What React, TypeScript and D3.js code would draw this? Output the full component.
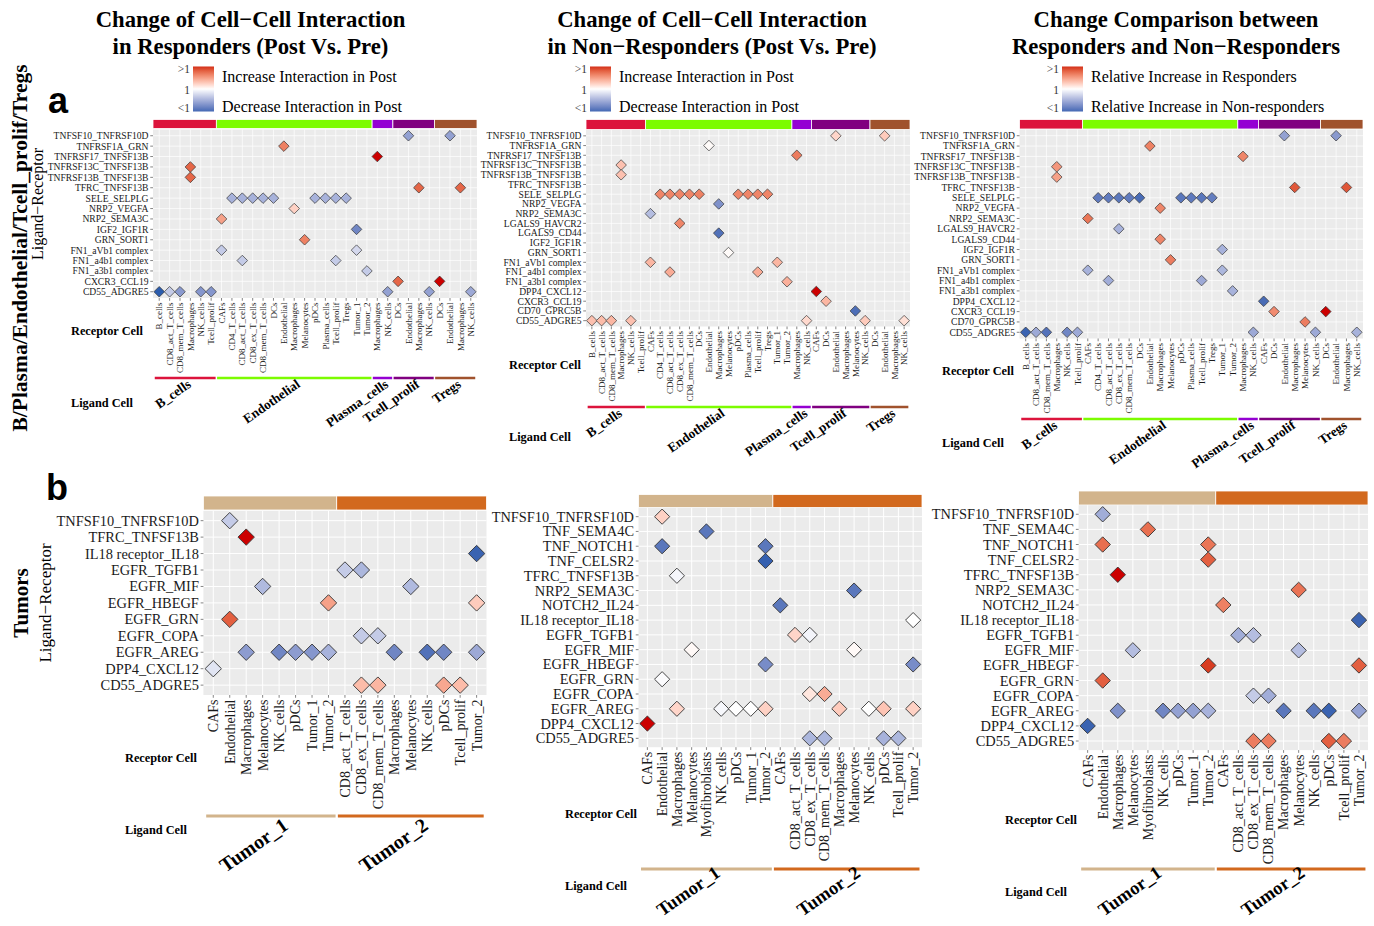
import React from "react";
import * as d3 from "d3";

// ---------------- DATA ----------------
const TOP_GROUPS = ["B_cells", "Endothelial", "Plasma_cells", "Tcell_prolif", "Tregs"];
const TOP_GROUP_COLORS = ["#DC143C", "#7CFC00", "#9400D3", "#800080", "#A0522D"];
const TOP_B_RECEPTORS = ["B_cells", "CD8_act_T_cells", "CD8_mem_T_cells", "Macrophages", "NK_cells", "Tcell_prolif"];
const TOP_ENDO_RECEPTORS = ["CAFs", "CD4_T_cells", "CD8_act_T_cells", "CD8_ex_T_cells", "CD8_mem_T_cells", "DCs", "Endothelial", "Macrophages", "Melanocytes", "pDCs", "Plasma_cells", "Tcell_prolif", "Tregs", "Tumor_1", "Tumor_2"];
const TOP_PLASMA_RECEPTORS = ["Macrophages", "NK_cells"];
const A1_TCELL_RECEPTORS = ["DCs", "Endothelial", "Macrophages", "NK_cells"];
const A23_TCELL_RECEPTORS = ["CAFs", "DCs", "Endothelial", "Macrophages", "Melanocytes", "NK_cells"];
const TOP_TREGS_RECEPTORS = ["DCs", "Endothelial", "Macrophages", "NK_cells"];

const A1_ROWS = ["TNFSF10_TNFRSF10D", "TNFRSF1A_GRN", "TNFRSF17_TNFSF13B", "TNFRSF13C_TNFSF13B", "TNFRSF13B_TNFSF13B", "TFRC_TNFSF13B", "SELE_SELPLG", "NRP2_VEGFA", "NRP2_SEMA3C", "IGF2_IGF1R", "GRN_SORT1", "FN1_aVb1 complex", "FN1_a4b1 complex", "FN1_a3b1 complex", "CXCR3_CCL19", "CD55_ADGRE5"];
const A23_ROWS = ["TNFSF10_TNFRSF10D", "TNFRSF1A_GRN", "TNFRSF17_TNFSF13B", "TNFRSF13C_TNFSF13B", "TNFRSF13B_TNFSF13B", "TFRC_TNFSF13B", "SELE_SELPLG", "NRP2_VEGFA", "NRP2_SEMA3C", "LGALS9_HAVCR2", "LGALS9_CD44", "IGF2_IGF1R", "GRN_SORT1", "FN1_aVb1 complex", "FN1_a4b1 complex", "FN1_a3b1 complex", "DPP4_CXCL12", "CXCR3_CCL19", "CD70_GPRC5B", "CD55_ADGRE5"];

type Pt = [string, string, string, number];

// [ligand_receptor, ligand cell, receptor cell, scaled change (-1 .. 1)]
const A1_POINTS: Pt[] = [
  ["TNFSF10_TNFRSF10D", "Tcell_prolif", "Endothelial", -0.55],
  ["TNFSF10_TNFRSF10D", "Tregs", "Endothelial", -0.55],
  ["TNFRSF1A_GRN", "Endothelial", "Endothelial", 0.6],
  ["TNFRSF17_TNFSF13B", "Plasma_cells", "Macrophages", 1.0],
  ["TNFRSF13C_TNFSF13B", "B_cells", "Macrophages", 0.72],
  ["TNFRSF13B_TNFSF13B", "B_cells", "Macrophages", 0.72],
  ["TFRC_TNFSF13B", "Tcell_prolif", "Macrophages", 0.72],
  ["TFRC_TNFSF13B", "Tregs", "Macrophages", 0.72],
  ["SELE_SELPLG", "Endothelial", "CD4_T_cells", -0.45],
  ["SELE_SELPLG", "Endothelial", "CD8_act_T_cells", -0.45],
  ["SELE_SELPLG", "Endothelial", "CD8_ex_T_cells", -0.45],
  ["SELE_SELPLG", "Endothelial", "CD8_mem_T_cells", -0.45],
  ["SELE_SELPLG", "Endothelial", "DCs", -0.45],
  ["SELE_SELPLG", "Endothelial", "pDCs", -0.45],
  ["SELE_SELPLG", "Endothelial", "Plasma_cells", -0.45],
  ["SELE_SELPLG", "Endothelial", "Tcell_prolif", -0.45],
  ["SELE_SELPLG", "Endothelial", "Tregs", -0.45],
  ["NRP2_VEGFA", "Endothelial", "Macrophages", 0.22],
  ["NRP2_SEMA3C", "Endothelial", "CAFs", 0.45],
  ["IGF2_IGF1R", "Endothelial", "Tumor_1", -0.72],
  ["GRN_SORT1", "Endothelial", "Melanocytes", 0.6],
  ["FN1_aVb1 complex", "Endothelial", "CAFs", -0.3],
  ["FN1_aVb1 complex", "Endothelial", "Tumor_1", -0.22],
  ["FN1_a4b1 complex", "Endothelial", "CD8_act_T_cells", -0.3],
  ["FN1_a4b1 complex", "Endothelial", "Tcell_prolif", -0.3],
  ["FN1_a3b1 complex", "Endothelial", "Tumor_2", -0.3],
  ["CXCR3_CCL19", "Tcell_prolif", "DCs", 0.72],
  ["CXCR3_CCL19", "Tregs", "DCs", 1.0],
  ["CD55_ADGRE5", "B_cells", "B_cells", -1.0],
  ["CD55_ADGRE5", "B_cells", "CD8_act_T_cells", -0.3],
  ["CD55_ADGRE5", "B_cells", "CD8_mem_T_cells", -0.6],
  ["CD55_ADGRE5", "B_cells", "NK_cells", -0.62],
  ["CD55_ADGRE5", "B_cells", "Tcell_prolif", -0.62],
  ["CD55_ADGRE5", "Plasma_cells", "NK_cells", -0.55],
  ["CD55_ADGRE5", "Tcell_prolif", "NK_cells", -0.55],
  ["CD55_ADGRE5", "Tregs", "NK_cells", -0.5],
];

const A2_POINTS: Pt[] = [
  ["TNFSF10_TNFRSF10D", "Tcell_prolif", "Endothelial", 0.2],
  ["TNFSF10_TNFRSF10D", "Tregs", "Endothelial", 0.25],
  ["TNFRSF1A_GRN", "Endothelial", "Endothelial", 0.02],
  ["TNFRSF17_TNFSF13B", "Plasma_cells", "Macrophages", 0.62],
  ["TNFRSF13C_TNFSF13B", "B_cells", "Macrophages", 0.3],
  ["TNFRSF13B_TNFSF13B", "B_cells", "Macrophages", 0.3],
  ["SELE_SELPLG", "Endothelial", "CD4_T_cells", 0.58],
  ["SELE_SELPLG", "Endothelial", "CD8_act_T_cells", 0.58],
  ["SELE_SELPLG", "Endothelial", "CD8_ex_T_cells", 0.58],
  ["SELE_SELPLG", "Endothelial", "CD8_mem_T_cells", 0.58],
  ["SELE_SELPLG", "Endothelial", "DCs", 0.6],
  ["SELE_SELPLG", "Endothelial", "pDCs", 0.58],
  ["SELE_SELPLG", "Endothelial", "Plasma_cells", 0.58],
  ["SELE_SELPLG", "Endothelial", "Tcell_prolif", 0.58],
  ["SELE_SELPLG", "Endothelial", "Tregs", 0.58],
  ["NRP2_VEGFA", "Endothelial", "Macrophages", -0.65],
  ["NRP2_SEMA3C", "Endothelial", "CAFs", -0.38],
  ["LGALS9_HAVCR2", "Endothelial", "CD8_ex_T_cells", 0.58],
  ["LGALS9_CD44", "Endothelial", "Macrophages", -0.86],
  ["GRN_SORT1", "Endothelial", "Melanocytes", 0.02],
  ["FN1_aVb1 complex", "Endothelial", "CAFs", 0.35],
  ["FN1_aVb1 complex", "Endothelial", "Tumor_1", 0.35],
  ["FN1_a4b1 complex", "Endothelial", "CD8_act_T_cells", 0.4],
  ["FN1_a4b1 complex", "Endothelial", "Tcell_prolif", 0.4],
  ["FN1_a3b1 complex", "Endothelial", "Tumor_2", 0.38],
  ["DPP4_CXCL12", "Tcell_prolif", "CAFs", 1.0],
  ["CXCR3_CCL19", "Tcell_prolif", "DCs", 0.35],
  ["CD70_GPRC5B", "Tcell_prolif", "Melanocytes", -0.88],
  ["CD55_ADGRE5", "B_cells", "B_cells", 0.3],
  ["CD55_ADGRE5", "B_cells", "CD8_act_T_cells", 0.32],
  ["CD55_ADGRE5", "B_cells", "CD8_mem_T_cells", 0.35],
  ["CD55_ADGRE5", "B_cells", "NK_cells", 0.3],
  ["CD55_ADGRE5", "Plasma_cells", "NK_cells", 0.18],
  ["CD55_ADGRE5", "Tcell_prolif", "NK_cells", 0.25],
  ["CD55_ADGRE5", "Tregs", "NK_cells", 0.15],
];

const A3_POINTS: Pt[] = [
  ["TNFSF10_TNFRSF10D", "Tcell_prolif", "Endothelial", -0.55],
  ["TNFSF10_TNFRSF10D", "Tregs", "Endothelial", -0.6],
  ["TNFRSF1A_GRN", "Endothelial", "Endothelial", 0.6],
  ["TNFRSF17_TNFSF13B", "Plasma_cells", "Macrophages", 0.58],
  ["TNFRSF13C_TNFSF13B", "B_cells", "Macrophages", 0.5],
  ["TNFRSF13B_TNFSF13B", "B_cells", "Macrophages", 0.45],
  ["TFRC_TNFSF13B", "Tcell_prolif", "Macrophages", 0.78],
  ["TFRC_TNFSF13B", "Tregs", "Macrophages", 0.78],
  ["SELE_SELPLG", "Endothelial", "CD4_T_cells", -0.8],
  ["SELE_SELPLG", "Endothelial", "CD8_act_T_cells", -0.8],
  ["SELE_SELPLG", "Endothelial", "CD8_ex_T_cells", -0.82],
  ["SELE_SELPLG", "Endothelial", "CD8_mem_T_cells", -0.8],
  ["SELE_SELPLG", "Endothelial", "DCs", -0.9],
  ["SELE_SELPLG", "Endothelial", "pDCs", -0.82],
  ["SELE_SELPLG", "Endothelial", "Plasma_cells", -0.8],
  ["SELE_SELPLG", "Endothelial", "Tcell_prolif", -0.82],
  ["SELE_SELPLG", "Endothelial", "Tregs", -0.78],
  ["NRP2_VEGFA", "Endothelial", "Macrophages", 0.58],
  ["NRP2_SEMA3C", "Endothelial", "CAFs", 0.65],
  ["LGALS9_HAVCR2", "Endothelial", "CD8_ex_T_cells", -0.45],
  ["LGALS9_CD44", "Endothelial", "Macrophages", 0.58],
  ["IGF2_IGF1R", "Endothelial", "Tumor_1", -0.45],
  ["GRN_SORT1", "Endothelial", "Melanocytes", 0.62],
  ["FN1_aVb1 complex", "Endothelial", "CAFs", -0.45],
  ["FN1_aVb1 complex", "Endothelial", "Tumor_1", -0.42],
  ["FN1_a4b1 complex", "Endothelial", "CD8_act_T_cells", -0.48],
  ["FN1_a4b1 complex", "Endothelial", "Tcell_prolif", -0.5],
  ["FN1_a3b1 complex", "Endothelial", "Tumor_2", -0.45],
  ["DPP4_CXCL12", "Tcell_prolif", "CAFs", -0.9],
  ["CXCR3_CCL19", "Tcell_prolif", "DCs", 0.55],
  ["CXCR3_CCL19", "Tregs", "DCs", 1.0],
  ["CD70_GPRC5B", "Tcell_prolif", "Melanocytes", 0.62],
  ["CD55_ADGRE5", "B_cells", "B_cells", -0.95],
  ["CD55_ADGRE5", "B_cells", "CD8_act_T_cells", -0.5],
  ["CD55_ADGRE5", "B_cells", "CD8_mem_T_cells", -0.85],
  ["CD55_ADGRE5", "B_cells", "NK_cells", -0.72],
  ["CD55_ADGRE5", "B_cells", "Tcell_prolif", -0.5],
  ["CD55_ADGRE5", "Plasma_cells", "NK_cells", -0.5],
  ["CD55_ADGRE5", "Tcell_prolif", "NK_cells", -0.5],
  ["CD55_ADGRE5", "Tregs", "NK_cells", -0.45],
];

const BOT_GROUPS = ["Tumor_1", "Tumor_2"];
const BOT_GROUP_COLORS = ["#D2B48C", "#D2691E"];
const B1_T1_RECEPTORS = ["CAFs", "Endothelial", "Macrophages", "Melanocytes", "NK_cells", "pDCs", "Tumor_1", "Tumor_2"];
const B1_T2_RECEPTORS = ["CD8_act_T_cells", "CD8_ex_T_cells", "CD8_mem_T_cells", "Macrophages", "Melanocytes", "NK_cells", "pDCs", "Tcell_prolif", "Tumor_2"];
const B23_T1_RECEPTORS = ["CAFs", "Endothelial", "Macrophages", "Melanocytes", "Myofibroblasts", "NK_cells", "pDCs", "Tumor_1", "Tumor_2"];
const B23_T2_RECEPTORS = ["CAFs", "CD8_act_T_cells", "CD8_ex_T_cells", "CD8_mem_T_cells", "Macrophages", "Melanocytes", "NK_cells", "pDCs", "Tcell_prolif", "Tumor_2"];

const B1_ROWS = ["TNFSF10_TNFRSF10D", "TFRC_TNFSF13B", "IL18 receptor_IL18", "EGFR_TGFB1", "EGFR_MIF", "EGFR_HBEGF", "EGFR_GRN", "EGFR_COPA", "EGFR_AREG", "DPP4_CXCL12", "CD55_ADGRE5"];
const B23_ROWS = ["TNFSF10_TNFRSF10D", "TNF_SEMA4C", "TNF_NOTCH1", "TNF_CELSR2", "TFRC_TNFSF13B", "NRP2_SEMA3C", "NOTCH2_IL24", "IL18 receptor_IL18", "EGFR_TGFB1", "EGFR_MIF", "EGFR_HBEGF", "EGFR_GRN", "EGFR_COPA", "EGFR_AREG", "DPP4_CXCL12", "CD55_ADGRE5"];

const B1_POINTS: Pt[] = [
  ["TNFSF10_TNFRSF10D", "Tumor_1", "Endothelial", -0.3],
  ["TFRC_TNFSF13B", "Tumor_1", "Macrophages", 1.0],
  ["IL18 receptor_IL18", "Tumor_2", "Tumor_2", -0.95],
  ["EGFR_TGFB1", "Tumor_2", "CD8_act_T_cells", -0.3],
  ["EGFR_TGFB1", "Tumor_2", "CD8_ex_T_cells", -0.42],
  ["EGFR_MIF", "Tumor_1", "Melanocytes", -0.4],
  ["EGFR_MIF", "Tumor_2", "Melanocytes", -0.4],
  ["EGFR_HBEGF", "Tumor_1", "Tumor_2", 0.45],
  ["EGFR_HBEGF", "Tumor_2", "Tumor_2", 0.25],
  ["EGFR_GRN", "Tumor_1", "Endothelial", 0.75],
  ["EGFR_COPA", "Tumor_2", "CD8_ex_T_cells", -0.3],
  ["EGFR_COPA", "Tumor_2", "CD8_mem_T_cells", -0.3],
  ["EGFR_AREG", "Tumor_1", "Macrophages", -0.58],
  ["EGFR_AREG", "Tumor_1", "NK_cells", -0.72],
  ["EGFR_AREG", "Tumor_1", "pDCs", -0.58],
  ["EGFR_AREG", "Tumor_1", "Tumor_1", -0.62],
  ["EGFR_AREG", "Tumor_1", "Tumor_2", -0.45],
  ["EGFR_AREG", "Tumor_2", "Macrophages", -0.72],
  ["EGFR_AREG", "Tumor_2", "NK_cells", -0.86],
  ["EGFR_AREG", "Tumor_2", "pDCs", -0.72],
  ["EGFR_AREG", "Tumor_2", "Tumor_2", -0.5],
  ["DPP4_CXCL12", "Tumor_1", "CAFs", -0.15],
  ["CD55_ADGRE5", "Tumor_2", "CD8_ex_T_cells", 0.32],
  ["CD55_ADGRE5", "Tumor_2", "CD8_mem_T_cells", 0.35],
  ["CD55_ADGRE5", "Tumor_2", "pDCs", 0.42],
  ["CD55_ADGRE5", "Tumor_2", "Tcell_prolif", 0.32],
];

const B2_POINTS: Pt[] = [
  ["TNFSF10_TNFRSF10D", "Tumor_1", "Endothelial", 0.22],
  ["TNF_SEMA4C", "Tumor_1", "Myofibroblasts", -0.82],
  ["TNF_NOTCH1", "Tumor_1", "Endothelial", -0.82],
  ["TNF_NOTCH1", "Tumor_1", "Tumor_2", -0.82],
  ["TNF_CELSR2", "Tumor_1", "Tumor_2", -0.97],
  ["TFRC_TNFSF13B", "Tumor_1", "Macrophages", -0.05],
  ["NRP2_SEMA3C", "Tumor_2", "Melanocytes", -0.82],
  ["NOTCH2_IL24", "Tumor_2", "CAFs", -0.82],
  ["IL18 receptor_IL18", "Tumor_2", "Tumor_2", 0.0],
  ["EGFR_TGFB1", "Tumor_2", "CD8_act_T_cells", 0.2],
  ["EGFR_TGFB1", "Tumor_2", "CD8_ex_T_cells", -0.06],
  ["EGFR_MIF", "Tumor_1", "Melanocytes", 0.03],
  ["EGFR_MIF", "Tumor_2", "Melanocytes", 0.03],
  ["EGFR_HBEGF", "Tumor_1", "Tumor_2", -0.68],
  ["EGFR_HBEGF", "Tumor_2", "Tumor_2", -0.68],
  ["EGFR_GRN", "Tumor_1", "Endothelial", -0.02],
  ["EGFR_COPA", "Tumor_2", "CD8_ex_T_cells", 0.12],
  ["EGFR_COPA", "Tumor_2", "CD8_mem_T_cells", 0.4],
  ["EGFR_AREG", "Tumor_1", "Macrophages", 0.2],
  ["EGFR_AREG", "Tumor_1", "NK_cells", -0.04],
  ["EGFR_AREG", "Tumor_1", "pDCs", 0.0],
  ["EGFR_AREG", "Tumor_1", "Tumor_1", 0.0],
  ["EGFR_AREG", "Tumor_1", "Tumor_2", 0.22],
  ["EGFR_AREG", "Tumor_2", "Macrophages", 0.25],
  ["EGFR_AREG", "Tumor_2", "NK_cells", 0.0],
  ["EGFR_AREG", "Tumor_2", "pDCs", 0.28],
  ["EGFR_AREG", "Tumor_2", "Tumor_2", 0.22],
  ["DPP4_CXCL12", "Tumor_1", "CAFs", 1.0],
  ["CD55_ADGRE5", "Tumor_2", "CD8_ex_T_cells", -0.42],
  ["CD55_ADGRE5", "Tumor_2", "CD8_mem_T_cells", -0.42],
  ["CD55_ADGRE5", "Tumor_2", "pDCs", -0.45],
  ["CD55_ADGRE5", "Tumor_2", "Tcell_prolif", -0.42],
];

const B3_POINTS: Pt[] = [
  ["TNFSF10_TNFRSF10D", "Tumor_1", "Endothelial", -0.48],
  ["TNF_SEMA4C", "Tumor_1", "Myofibroblasts", 0.68],
  ["TNF_NOTCH1", "Tumor_1", "Endothelial", 0.68],
  ["TNF_NOTCH1", "Tumor_1", "Tumor_2", 0.65],
  ["TNF_CELSR2", "Tumor_1", "Tumor_2", 0.75],
  ["TFRC_TNFSF13B", "Tumor_1", "Macrophages", 1.0],
  ["NRP2_SEMA3C", "Tumor_2", "Melanocytes", 0.66],
  ["NOTCH2_IL24", "Tumor_2", "CAFs", 0.6],
  ["IL18 receptor_IL18", "Tumor_2", "Tumor_2", -0.95],
  ["EGFR_TGFB1", "Tumor_2", "CD8_act_T_cells", -0.48],
  ["EGFR_TGFB1", "Tumor_2", "CD8_ex_T_cells", -0.38],
  ["EGFR_MIF", "Tumor_1", "Melanocytes", -0.38],
  ["EGFR_MIF", "Tumor_2", "Melanocytes", -0.38],
  ["EGFR_HBEGF", "Tumor_1", "Tumor_2", 0.88],
  ["EGFR_HBEGF", "Tumor_2", "Tumor_2", 0.75],
  ["EGFR_GRN", "Tumor_1", "Endothelial", 0.75],
  ["EGFR_COPA", "Tumor_2", "CD8_ex_T_cells", -0.3],
  ["EGFR_COPA", "Tumor_2", "CD8_mem_T_cells", -0.48],
  ["EGFR_AREG", "Tumor_1", "Macrophages", -0.65],
  ["EGFR_AREG", "Tumor_1", "NK_cells", -0.72],
  ["EGFR_AREG", "Tumor_1", "pDCs", -0.55],
  ["EGFR_AREG", "Tumor_1", "Tumor_1", -0.55],
  ["EGFR_AREG", "Tumor_1", "Tumor_2", -0.45],
  ["EGFR_AREG", "Tumor_2", "Macrophages", -0.82],
  ["EGFR_AREG", "Tumor_2", "NK_cells", -0.82],
  ["EGFR_AREG", "Tumor_2", "pDCs", -0.95],
  ["EGFR_AREG", "Tumor_2", "Tumor_2", -0.55],
  ["DPP4_CXCL12", "Tumor_1", "CAFs", -0.95],
  ["CD55_ADGRE5", "Tumor_2", "CD8_ex_T_cells", 0.62],
  ["CD55_ADGRE5", "Tumor_2", "CD8_mem_T_cells", 0.62],
  ["CD55_ADGRE5", "Tumor_2", "pDCs", 0.75],
  ["CD55_ADGRE5", "Tumor_2", "Tcell_prolif", 0.62],
];

const TITLES = [
  ["Change of Cell\u2212Cell Interaction", "in Responders (Post Vs. Pre)"],
  ["Change of Cell\u2212Cell Interaction", "in Non\u2212Responders (Post Vs. Pre)"],
  ["Change Comparison between", "Responders and Non\u2212Responders"],
];
const LEGEND_TEXTS = [
  ["Increase Interaction in Post", "Decrease Interaction in Post"],
  ["Increase Interaction in Post", "Decrease Interaction in Post"],
  ["Relative Increase in Responders", "Relative Increase in Non-responders"],
];
const LEGEND_TICKS = [">1", "1", "<1"];

// ---------------- STYLE ----------------
const SERIF = "'Liberation Serif','Times New Roman',Times,serif";
const SANS = "'Liberation Sans',Arial,Helvetica,sans-serif";
const LOW = "#2B5CAD";
const HIGH = "#CC0000";
const fillScale = (v: number) =>
  v >= 0 ? d3.interpolateLab("#FFFFFF", HIGH)(Math.min(1, v)) : d3.interpolateLab("#FFFFFF", LOW)(Math.min(1, -v));

type Layout = {
  left: number; right: number; top: number; bottom: number;
  stripTop: number; stripBottom: number;
  xFont: number; yFont: number; half: number; strokeW: number; gridW: number;
  lineY: number; lineW: number; gFont: number; gdx: number; gdy: number;
  recv: [number, number]; lig: [number, number]; labFont: number;
};

type PanelCfg = {
  id: string;
  rows: string[];
  groups: string[];
  receptors: string[][];
  colors: string[];
  points: Pt[];
  L: Layout;
};

function Panel({ cfg }: { cfg: PanelCfg }) {
  const { rows, groups, receptors, colors, points, L } = cfg;
  const keys: string[] = [];
  const labels: string[] = [];
  groups.forEach((g, i) => receptors[i].forEach((r) => { keys.push(g + "|" + r); labels.push(r); }));
  const x = d3.scalePoint<string>().domain(keys).range([L.left, L.right]).padding(0.6);
  const y = d3.scalePoint<string>().domain(rows).range([L.top, L.bottom]).padding(0.6);
  const step = x.step();
  const diamond = `M0,${-L.half}L${L.half},0L0,${L.half}L${-L.half},0Z`;

  const groupExt = groups.map((g, i) => {
    const first = x(g + "|" + receptors[i][0]) as number;
    const last = x(g + "|" + receptors[i][receptors[i].length - 1]) as number;
    return { g, i, first, last };
  });

  return (
    <g>
      {groupExt.map((ge, i) => {
        const x0 = i === 0 ? L.left : (groupExt[i - 1].last + ge.first) / 2;
        const x1 = i === groupExt.length - 1 ? L.right : (ge.last + groupExt[i + 1].first) / 2;
        return <rect key={"s" + i} x={x0} y={L.stripTop} width={x1 - x0} height={L.stripBottom - L.stripTop} fill={colors[i]} stroke="#fff" strokeWidth={0.8} />;
      })}
      <rect x={L.left} y={L.top} width={L.right - L.left} height={L.bottom - L.top} fill="#EBEBEB" />
      {keys.map((k) => (
        <line key={"gx" + k} x1={x(k)} x2={x(k)} y1={L.top} y2={L.bottom} stroke="#fff" strokeWidth={L.gridW} />
      ))}
      {rows.map((r) => (
        <line key={"gy" + r} x1={L.left} x2={L.right} y1={y(r)} y2={y(r)} stroke="#fff" strokeWidth={L.gridW} />
      ))}
      {keys.map((k) => (
        <line key={"tx" + k} x1={x(k)} x2={x(k)} y1={L.bottom} y2={L.bottom + 2.75} stroke="#333" strokeWidth={0.6} />
      ))}
      {rows.map((r) => (
        <line key={"ty" + r} x1={L.left - 2.75} x2={L.left} y1={y(r)} y2={y(r)} stroke="#333" strokeWidth={0.6} />
      ))}
      {rows.map((r) => (
        <text key={"ly" + r} x={L.left - 4.5} y={y(r)} dy="0.35em" textAnchor="end" fontFamily={SERIF} fontSize={L.yFont} fill="#1a1a1a">{r}</text>
      ))}
      {keys.map((k, i) => (
        <text key={"lx" + k} transform={`translate(${x(k)},${L.bottom + 4.5}) rotate(-90)`} dy="0.35em" textAnchor="end" fontFamily={SERIF} fontSize={L.xFont} fill="#1a1a1a">{labels[i]}</text>
      ))}
      {points.map((p, i) => {
        const px = x(p[1] + "|" + p[2]);
        const py = y(p[0]);
        if (px === undefined || py === undefined) return null;
        return <path key={"p" + i} d={diamond} transform={`translate(${px},${py})`} fill={fillScale(p[3])} stroke="#333" strokeWidth={L.strokeW} />;
      })}
      {groupExt.map((ge, i) => (
        <line key={"gl" + i} x1={ge.first - 0.43 * step} x2={ge.last + 0.43 * step} y1={L.lineY} y2={L.lineY} stroke={colors[i]} strokeWidth={L.lineW} />
      ))}
      {groupExt.map((ge, i) => (
        <text key={"gt" + i} transform={`translate(${(ge.first + ge.last) / 2 + L.gdx},${L.lineY + L.gdy}) rotate(-35)`} dy="0.75em" textAnchor="end" fontFamily={SERIF} fontWeight="bold" fontSize={L.gFont} fill="#000">{ge.g}</text>
      ))}
      <text x={L.recv[0]} y={L.recv[1]} fontFamily={SERIF} fontWeight="bold" fontSize={L.labFont}>Receptor Cell</text>
      <text x={L.lig[0]} y={L.lig[1]} fontFamily={SERIF} fontWeight="bold" fontSize={L.labFont}>Ligand Cell</text>
    </g>
  );
}

function Header({ idx, cx, gx }: { idx: number; cx: number; gx: number }) {
  const gid = "lg" + idx;
  const stops = d3.range(0, 1.0001, 0.1);
  return (
    <g>
      <defs>
        <linearGradient id={gid} x1="0" y1="0" x2="0" y2="1">
          {stops.map((s) => (
            <stop key={s} offset={s} stopColor={fillScale(0.92 - s * 1.84)} />
          ))}
        </linearGradient>
      </defs>
      <text x={cx} y={27} textAnchor="middle" fontFamily={SERIF} fontWeight="bold" fontSize={22.7}>{TITLES[idx][0]}</text>
      <text x={cx} y={54} textAnchor="middle" fontFamily={SERIF} fontWeight="bold" fontSize={22.7}>{TITLES[idx][1]}</text>
      <rect x={gx} y={66.5} width={21} height={45} fill={`url(#${gid})`} />
      {LEGEND_TICKS.map((t, i) => (
        <text key={t} x={gx - 3} y={[73, 94, 112][i]} textAnchor="end" fontFamily={SERIF} fontSize={11.5} fill="#333">{t}</text>
      ))}
      <text x={gx + 29} y={82} fontFamily={SERIF} fontSize={16}>{LEGEND_TEXTS[idx][0]}</text>
      <text x={gx + 29} y={112} fontFamily={SERIF} fontSize={16}>{LEGEND_TEXTS[idx][1]}</text>
    </g>
  );
}

const topL = (o: Partial<Layout>): Layout => ({
  left: 0, right: 0, top: 0, bottom: 0, stripTop: 119.5, stripBottom: 129,
  xFont: 9, yFont: 9.6, half: 5.3, strokeW: 0.7, gridW: 0.7,
  lineY: 0, lineW: 2.5, gFont: 13.3, gdx: 1, gdy: 0,
  recv: [0, 0], lig: [0, 0], labFont: 12.3, ...o,
});
const botL = (o: Partial<Layout>): Layout => ({
  left: 0, right: 0, top: 0, bottom: 0, stripTop: 0, stripBottom: 0,
  xFont: 14, yFont: 14.4, half: 8, strokeW: 0.9, gridW: 1,
  lineY: 0, lineW: 3, gFont: 20, gdx: 10, gdy: 0,
  recv: [0, 0], lig: [0, 0], labFont: 12.3, ...o,
});

const PANELS: PanelCfg[] = [
  {
    id: "A1", rows: A1_ROWS, groups: TOP_GROUPS, colors: TOP_GROUP_COLORS, points: A1_POINTS,
    receptors: [TOP_B_RECEPTORS, TOP_ENDO_RECEPTORS, TOP_PLASMA_RECEPTORS, A1_TCELL_RECEPTORS, TOP_TREGS_RECEPTORS],
    L: topL({ left: 153, right: 477, top: 129.5, bottom: 298, stripBottom: 128.5, lineY: 378, recv: [71, 335], lig: [71, 407] }),
  },
  {
    id: "A2", rows: A23_ROWS, groups: TOP_GROUPS, colors: TOP_GROUP_COLORS, points: A2_POINTS,
    receptors: [TOP_B_RECEPTORS, TOP_ENDO_RECEPTORS, TOP_PLASMA_RECEPTORS, A23_TCELL_RECEPTORS, TOP_TREGS_RECEPTORS],
    L: topL({ left: 586, right: 910, top: 130, bottom: 326.5, stripBottom: 129.5, lineY: 407, recv: [509, 369], lig: [509, 441] }),
  },
  {
    id: "A3", rows: A23_ROWS, groups: TOP_GROUPS, colors: TOP_GROUP_COLORS, points: A3_POINTS,
    receptors: [TOP_B_RECEPTORS, TOP_ENDO_RECEPTORS, TOP_PLASMA_RECEPTORS, A23_TCELL_RECEPTORS, TOP_TREGS_RECEPTORS],
    L: topL({ left: 1019.5, right: 1363, top: 129.5, bottom: 338.5, stripBottom: 129, lineY: 419, recv: [942, 375], lig: [942, 447] }),
  },
  {
    id: "B1", rows: B1_ROWS, groups: BOT_GROUPS, colors: BOT_GROUP_COLORS, points: B1_POINTS,
    receptors: [B1_T1_RECEPTORS, B1_T2_RECEPTORS],
    L: botL({ left: 203.4, right: 486.5, top: 510.8, bottom: 695, stripTop: 496, stripBottom: 510, lineY: 816, half: 8.2, recv: [125, 762], lig: [125, 834] }),
  },
  {
    id: "B2", rows: B23_ROWS, groups: BOT_GROUPS, colors: BOT_GROUP_COLORS, points: B2_POINTS,
    receptors: [B23_T1_RECEPTORS, B23_T2_RECEPTORS],
    L: botL({ left: 638.5, right: 922, top: 507.8, bottom: 747.2, stripTop: 494.5, stripBottom: 507.5, lineY: 869, half: 7.6, gFont: 18.5, gdx: 7, gdy: -5, recv: [565, 818], lig: [565, 890] }),
  },
  {
    id: "B3", rows: B23_ROWS, groups: BOT_GROUPS, colors: BOT_GROUP_COLORS, points: B3_POINTS,
    receptors: [B23_T1_RECEPTORS, B23_T2_RECEPTORS],
    L: botL({ left: 1078.6, right: 1368, top: 505.2, bottom: 750.1, stripTop: 491, stripBottom: 505, lineY: 869, half: 7.7, gFont: 18.5, gdx: 7, gdy: -5, recv: [1005, 824], lig: [1005, 896] }),
  },
];

export default function App() {
  return (
    <svg width={1374} height={926} viewBox="0 0 1374 926" style={{ position: "absolute", left: 0, top: 0, display: "block", background: "#fff" }}>
      <rect x={0} y={0} width={1374} height={926} fill="#fff" />
      <Header idx={0} cx={250.5} gx={193} />
      <Header idx={1} cx={712} gx={590} />
      <Header idx={2} cx={1176} gx={1062} />
      {PANELS.map((p) => <Panel key={p.id} cfg={p} />)}
      <text transform="translate(27,248) rotate(-90)" textAnchor="middle" fontFamily={SERIF} fontWeight="bold" fontSize={21.5}>B/Plasma/Endothelial/Tcell_prolif/Tregs</text>
      <text transform="translate(42.5,204) rotate(-90)" textAnchor="middle" fontFamily={SERIF} fontSize={16}>Ligand{"\u2212"}Receptor</text>
      <text transform="translate(28,603) rotate(-90)" textAnchor="middle" fontFamily={SERIF} fontWeight="bold" fontSize={21}>Tumors</text>
      <text transform="translate(51,603) rotate(-90)" textAnchor="middle" fontFamily={SERIF} fontSize={17}>Ligand{"\u2212"}Receptor</text>
      <text x={48} y={113} fontFamily={SANS} fontWeight="bold" fontSize={36}>a</text>
      <text x={46} y={500} fontFamily={SANS} fontWeight="bold" fontSize={36}>b</text>
    </svg>
  );
}
